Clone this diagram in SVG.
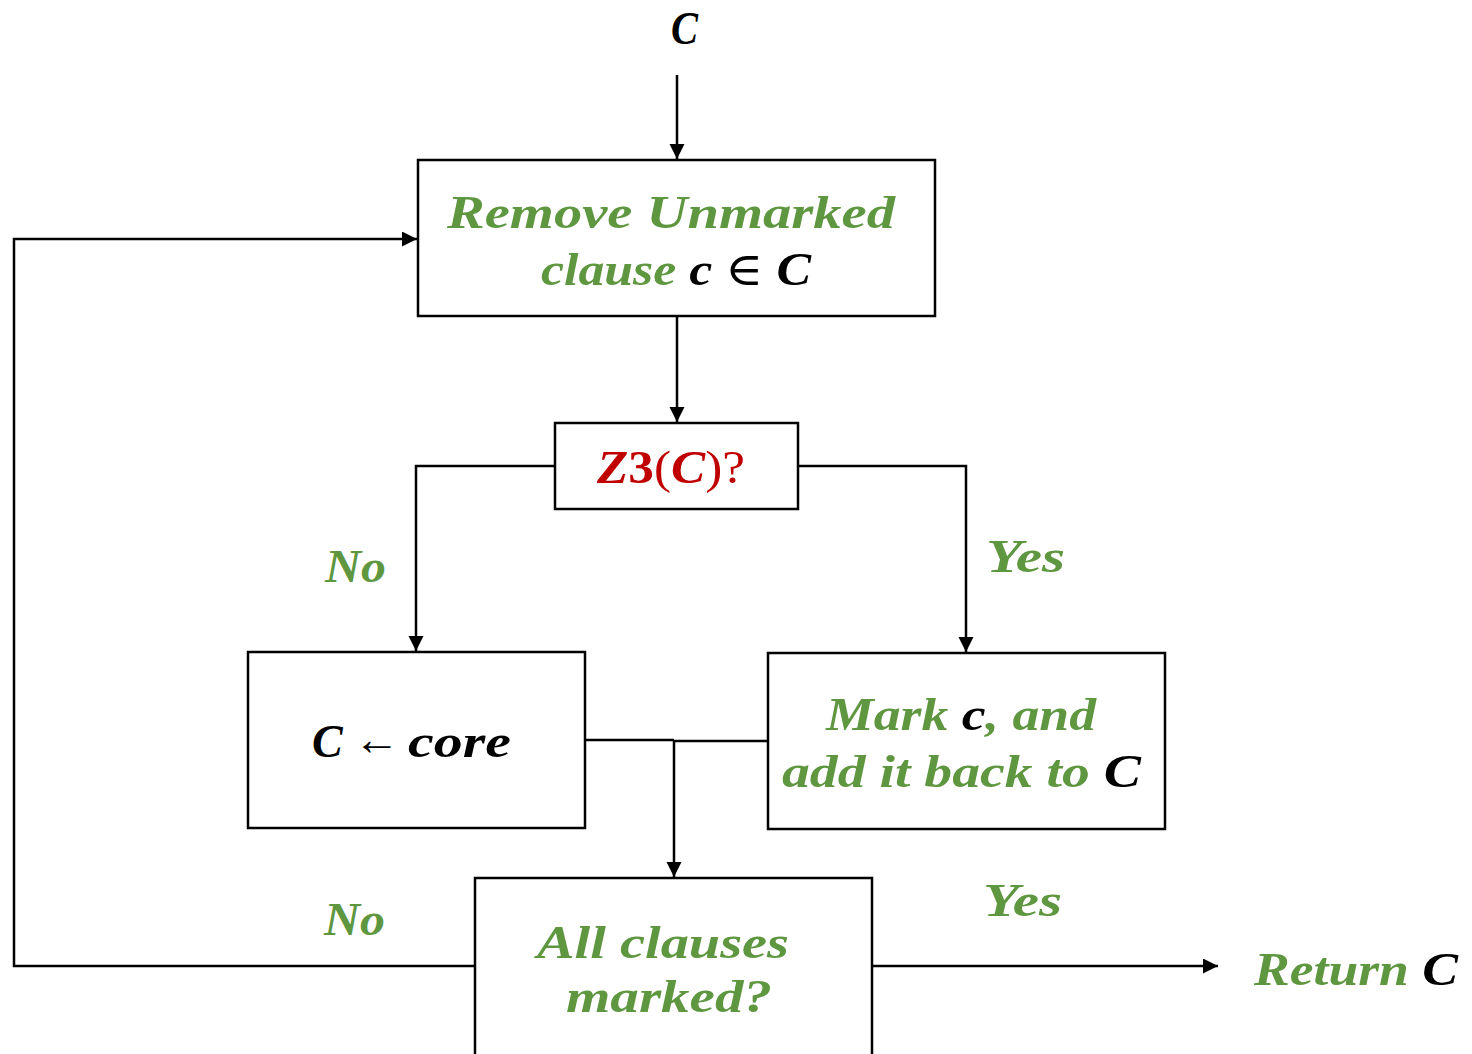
<svg xmlns="http://www.w3.org/2000/svg" width="1472" height="1054" viewBox="0 0 1472 1054">
  <style>
    .box { fill: #ffffff; stroke: #000000; stroke-width: 2.5; }
    .wire { fill: none; stroke: #000000; stroke-width: 2.5; }
    text { font-family: "Liberation Serif", "DejaVu Serif", serif; font-size: 46px; font-weight: bold; font-style: italic; }
    .g { fill: #5E973F; }
    .k { fill: #000000; }
    .r { fill: #C00000; }
    .up { font-style: normal; font-weight: normal; }
  </style>
  <defs>
    <marker id="arrow" markerUnits="userSpaceOnUse" markerWidth="16" markerHeight="16" refX="15" refY="7.5" orient="auto">
      <path d="M0,0 L15,7.5 L0,15 Z" fill="#000000"/>
    </marker>
  </defs>

  <rect width="1472" height="1054" fill="#ffffff"/>

  <!-- connectors -->
  <g id="connectors">
    <line class="wire" x1="677" y1="75" x2="677" y2="159" marker-end="url(#arrow)"/>
    <line class="wire" x1="677" y1="316" x2="677" y2="422" marker-end="url(#arrow)"/>
    <polyline class="wire" points="555,466 416,466 416,651" marker-end="url(#arrow)"/>
    <polyline class="wire" points="798,466 966,466 966,652" marker-end="url(#arrow)"/>
    <polyline class="wire" points="585,740 674,740"/>
    <polyline class="wire" points="768,741 674,741 674,877" marker-end="url(#arrow)"/>
    <polyline class="wire" points="475,966 14,966 14,239 417,239" marker-end="url(#arrow)"/>
    <line class="wire" x1="872" y1="966" x2="1218" y2="966" marker-end="url(#arrow)"/>
  </g>

  <!-- input -->
  <g id="input">
    <text class="k" x="671" y="44" textLength="27" lengthAdjust="spacingAndGlyphs">C</text>
  </g>

  <g id="remove">
    <rect class="box" x="418" y="160" width="517" height="156"/>
    <text class="g" x="447" y="228" textLength="448" lengthAdjust="spacingAndGlyphs">Remove Unmarked</text>
    <text x="541" y="285" textLength="270" lengthAdjust="spacingAndGlyphs"><tspan class="g">clause </tspan><tspan class="k">c </tspan><tspan class="k up">∈ </tspan><tspan class="k">C</tspan></text>
  </g>

  <g id="z3">
    <rect class="box" x="555" y="423" width="243" height="86"/>
    <text class="r" x="597" y="483" textLength="148" lengthAdjust="spacingAndGlyphs">Z<tspan font-style="normal">3</tspan><tspan class="up">(</tspan>C<tspan class="up">)?</tspan></text>
  </g>

  <g id="core">
    <rect class="box" x="248" y="652" width="337" height="176"/>
    <text class="k" x="312" y="757">C</text>
    <text class="k up" x="354" y="755" font-size="40">←</text>
    <text class="k" x="408" y="757" textLength="103" lengthAdjust="spacingAndGlyphs">core</text>
  </g>

  <g id="mark">
    <rect class="box" x="768" y="653" width="397" height="176"/>
    <text x="826" y="730" textLength="270" lengthAdjust="spacingAndGlyphs"><tspan class="g">Mark </tspan><tspan class="k">c</tspan><tspan class="g">, and</tspan></text>
    <text x="782" y="787" textLength="359" lengthAdjust="spacingAndGlyphs"><tspan class="g">add it back to </tspan><tspan class="k">C</tspan></text>
  </g>

  <g id="check">
    <rect class="box" x="475" y="878" width="397" height="180"/>
    <text class="g" x="537" y="958" textLength="252" lengthAdjust="spacingAndGlyphs">All clauses</text>
    <text class="g" x="566" y="1012" textLength="206" lengthAdjust="spacingAndGlyphs">marked?</text>
  </g>

  <g id="output">
    <text x="1254" y="985" textLength="204" lengthAdjust="spacingAndGlyphs"><tspan class="g">Return </tspan><tspan class="k">C</tspan></text>
  </g>

  <!-- branch labels -->
  <g id="labels">
    <text class="g" x="325" y="582" textLength="61" lengthAdjust="spacingAndGlyphs">No</text>
    <text class="g" x="986" y="572" textLength="79" lengthAdjust="spacingAndGlyphs">Yes</text>
    <text class="g" x="324" y="935" textLength="61" lengthAdjust="spacingAndGlyphs">No</text>
    <text class="g" x="983" y="916" textLength="79" lengthAdjust="spacingAndGlyphs">Yes</text>
  </g>
</svg>
